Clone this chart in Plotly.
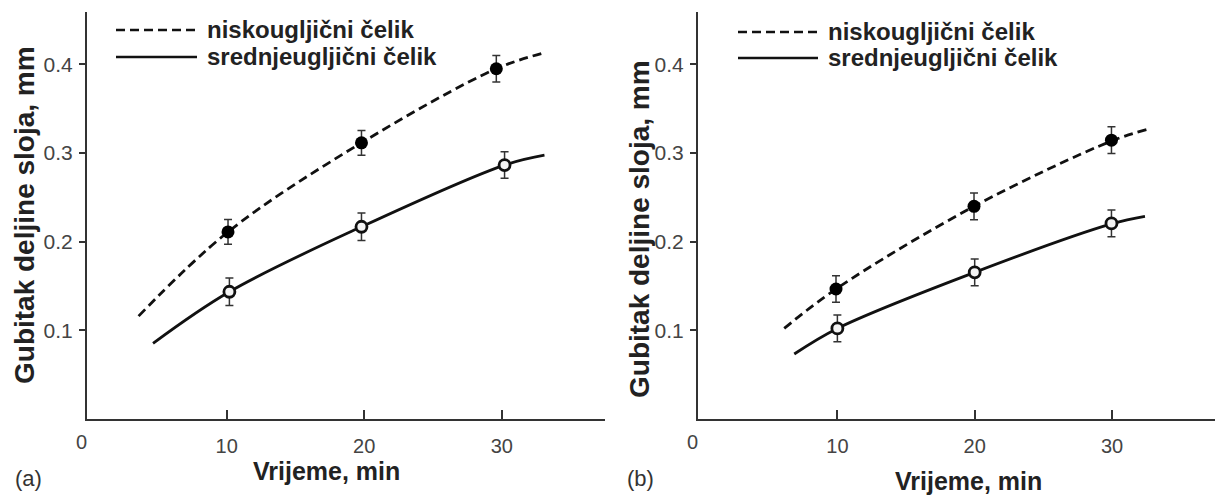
import plotly.graph_objects as go

# ---------------- data ----------------
series_names = ["niskougljični čelik", "srednjeugljični čelik"]
x_tick_vals = [10, 20, 30]
x_tick_text = ["10", "20", "30"]
y_tick_vals = [0.1, 0.2, 0.3, 0.4]
y_tick_text = ["0.1", "0.2", "0.3", "0.4"]
panel_labels = ["(a)", "(b)"]
x_title = "Vrijeme, min"
y_title = "Gubitak deljine sloja, mm"

# panel (a) measured points
a_low_x = [10.1, 19.8, 29.6]
a_low_y = [0.211, 0.3115, 0.395]
a_low_err = [0.014, 0.014, 0.015]
a_mid_x = [10.2, 19.8, 30.2]
a_mid_y = [0.1435, 0.2168, 0.2864]
a_mid_err = [0.0155, 0.0155, 0.015]
# panel (a) fitted curves
a_low_curve_x = [3.6, 10.1, 19.8, 29.6, 33.1]
a_low_curve_y = [0.116, 0.211, 0.3115, 0.395, 0.413]
a_mid_curve_x = [4.65, 10.2, 19.8, 30.2, 33.1]
a_mid_curve_y = [0.0853, 0.1435, 0.2168, 0.2864, 0.2976]

# panel (b) measured points
b_low_x = [9.9, 19.95, 29.96]
b_low_y = [0.1466, 0.2398, 0.3145]
b_low_err = [0.015, 0.015, 0.015]
b_mid_x = [10.0, 20.0, 29.96]
b_mid_y = [0.1022, 0.1654, 0.2206]
b_mid_err = [0.015, 0.015, 0.015]
# panel (b) fitted curves
b_low_curve_x = [6.13, 9.9, 19.95, 29.96, 32.56]
b_low_curve_y = [0.1022, 0.1466, 0.2398, 0.3135, 0.3265]
b_mid_curve_x = [6.86, 10.0, 20.0, 29.96, 32.4]
b_mid_curve_y = [0.0733, 0.1022, 0.1654, 0.2200, 0.2285]

# ---------------- figure ----------------
W, H = 1223, 497
FONT = "Liberation Sans, Arial, sans-serif"
INK = "#222222"
AX = "#333333"
DASH = "9px,5px"

fig = go.Figure()

panels = [
    dict(xa="x", ya="y", low=(a_low_curve_x, a_low_curve_y, a_low_x, a_low_y, a_low_err),
         mid=(a_mid_curve_x, a_mid_curve_y, a_mid_x, a_mid_y, a_mid_err)),
    dict(xa="x2", ya="y2", low=(b_low_curve_x, b_low_curve_y, b_low_x, b_low_y, b_low_err),
         mid=(b_mid_curve_x, b_mid_curve_y, b_mid_x, b_mid_y, b_mid_err)),
]

for p in panels:
    for key, dash, name in (("low", DASH, series_names[0]), ("mid", "solid", series_names[1])):
        cx, cy, px, py, pe = p[key]
        fig.add_trace(go.Scatter(
            x=cx, y=cy, mode="lines", name=name, showlegend=False,
            line=dict(color="#111111", width=2.8, dash=dash, shape="spline", smoothing=1.0),
            xaxis=p["xa"], yaxis=p["ya"], hoverinfo="skip"))
    for key, filled, name in (("low", True, series_names[0]), ("mid", False, series_names[1])):
        cx, cy, px, py, pe = p[key]
        fig.add_trace(go.Scatter(
            x=px, y=py, mode="markers", name=name, showlegend=False,
            marker=dict(symbol="circle", size=13 if filled else 11,
                        color="#000000" if filled else "#f4f4f4",
                        line=dict(color="#111111", width=0 if filled else 2.8)),
            error_y=dict(type="data", array=pe, visible=True, color="#333333",
                         thickness=1.5, width=4),
            xaxis=p["xa"], yaxis=p["ya"]))

# domains in pixels
left_dom = [87 / W, 605 / W]
right_dom = [698 / W, 1215 / W]
y_dom = [(H - 419) / H, (H - 12) / H]

xcommon = dict(range=[-0.15, 37.5], showline=True, linecolor=AX, linewidth=2,
               showgrid=False, zeroline=False, tickmode="array",
               tickvals=x_tick_vals, ticktext=x_tick_text,
               ticks="inside", ticklen=9, tickwidth=1.5, tickcolor=AX,
               ticklabelstandoff=8,
               tickfont=dict(family=FONT, size=20, color="#444444"))
ycommon = dict(range=[0, 0.459], showline=True, linecolor=AX, linewidth=2,
               showgrid=False, zeroline=False, tickmode="array",
               tickvals=y_tick_vals, ticktext=y_tick_text,
               ticks="outside", ticklen=6, tickwidth=1.5, tickcolor=AX,
               ticklabelstandoff=2,
               tickfont=dict(family=FONT, size=21, color="#444444"))

fig.update_layout(
    width=W, height=H,
    margin=dict(l=0, r=0, t=0, b=0),
    paper_bgcolor="white", plot_bgcolor="white",
    showlegend=False,
    xaxis=dict(domain=left_dom, anchor="y", **xcommon),
    yaxis=dict(domain=y_dom, anchor="x", **ycommon),
    xaxis2=dict(domain=right_dom, anchor="y2", **xcommon),
    yaxis2=dict(domain=y_dom, anchor="x2", **ycommon),
)

annotations = []
shapes = []
deco = [
    dict(xa="x", ya="y", ytitle_x=24, ytitle_y=215, xtitle_x=327, xtitle_y=471,
         lab_x=28, leg_x0=116, leg_x1=197, leg_text_x=205, leg_y=(30, 57)),
    dict(xa="x2", ya="y2", ytitle_x=639, ytitle_y=229, xtitle_x=968, xtitle_y=481,
         lab_x=640, leg_x0=738, leg_x1=818, leg_text_x=826, leg_y=(32, 58)),
]
for i, d in enumerate(deco):
    annotations.append(dict(text=y_title, textangle=-90, x=d["ytitle_x"] / W, y=1 - d["ytitle_y"] / H,
                            xref="paper", yref="paper", showarrow=False, xanchor="center", yanchor="middle",
                            font=dict(family=FONT, size=28, color=INK, weight="bold")))
    annotations.append(dict(text=x_title, x=d["xtitle_x"] / W, y=1 - d["xtitle_y"] / H,
                            xref="paper", yref="paper", showarrow=False, xanchor="center", yanchor="middle",
                            font=dict(family=FONT, size=25, color=INK, weight="bold")))
    annotations.append(dict(text=panel_labels[i], x=d["lab_x"] / W, y=1 - 478 / H,
                            xref="paper", yref="paper", showarrow=False, xanchor="center", yanchor="middle",
                            font=dict(family=FONT, size=22, color="#333333")))
    annotations.append(dict(text="0", x=0, y=0, xref=d["xa"], yref=d["ya"], showarrow=False,
                            xanchor="center", yanchor="top", xshift=-8, yshift=-10,
                            font=dict(family=FONT, size=20, color="#444444")))
    for k, (name, dash) in enumerate(zip(series_names, [DASH, "solid"])):
        yy = 1 - d["leg_y"][k] / H
        shapes.append(dict(type="line", xref="paper", yref="paper",
                           x0=d["leg_x0"] / W, x1=d["leg_x1"] / W, y0=yy, y1=yy,
                           line=dict(color="#111111", width=2.6, dash=dash)))
        annotations.append(dict(text=name, x=d["leg_text_x"] / W, y=yy, xref="paper", yref="paper",
                                showarrow=False, xanchor="left", yanchor="middle",
                                font=dict(family=FONT, size=24, color=INK, weight="bold")))

fig.update_layout(annotations=annotations, shapes=shapes)
fig.write_html("out.html", config={"displayModeBar": False},
               post_script="document.body.style.margin='0';document.body.style.padding='0';")
